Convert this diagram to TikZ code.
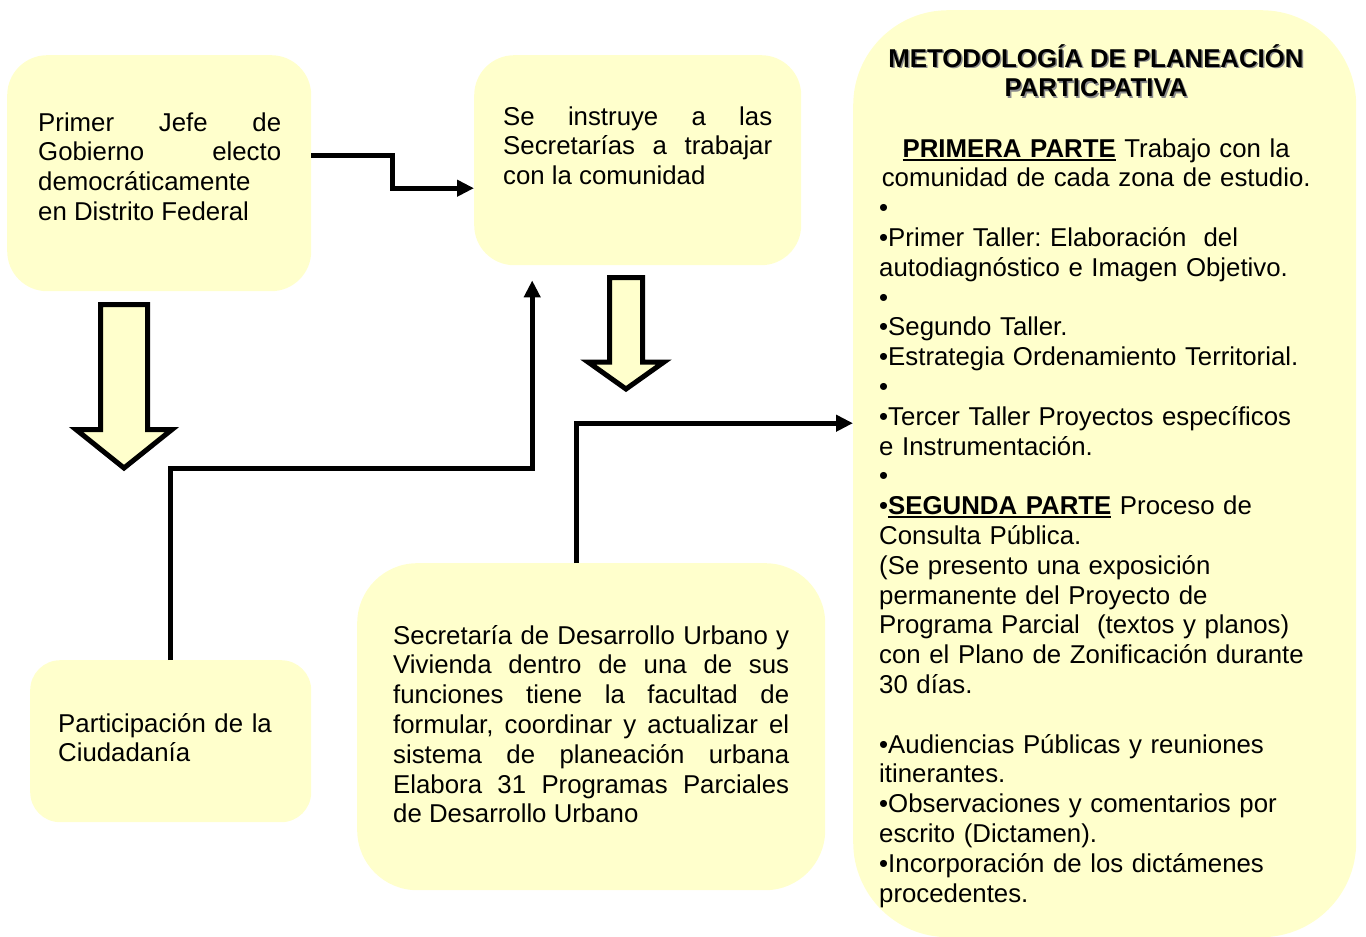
\documentclass[tikz,border=0pt]{standalone}
\usepackage{fontspec}
\setmainfont{Liberation Sans}
\usetikzlibrary{arrows.meta,calc}
\definecolor{boxfill}{HTML}{FFFFCC}
\tolerance=10000
\hyphenpenalty=10000
\frenchspacing
\newcommand\myul[1]{{\setbox0\hbox{#1}\rlap{\rule[-3.5pt]{\wd0}{1.8pt}}\box0}}
\begin{document}
\begin{tikzpicture}[x=1pt,y=-1pt,
  box/.style={draw=none,fill=boxfill,anchor=north west,inner sep=0pt},
  txt/.style={anchor=base west,inner sep=0pt,font=\fontsize{25.8}{29.8}\selectfont\frenchspacing},
  conn/.style={line width=5pt,line join=miter,-{Triangle[length=17pt,width=16pt]}},
  blockarrow/.style={draw=black,line width=5pt,fill=boxfill,line join=miter}]
\useasboundingbox (0,0) rectangle (1366,937);

% boxes
\node[box,rounded corners=40pt,minimum width=304pt,minimum height=236pt] (a) at (7,55) {};
\node[box,rounded corners=40pt,minimum width=327pt,minimum height=210pt] (b) at (474,55) {};
\node[box,rounded corners=30pt,minimum width=281pt,minimum height=162pt] (c) at (30,660) {};
\node[box,rounded corners=60pt,minimum width=468pt,minimum height=327pt] (d) at (357,563) {};
\node[box,rounded corners=95pt,minimum width=503pt,minimum height=927pt] (e) at (853,10) {};

% texts
\node[txt,text width=243pt,align=justify] (ta) at (38,131)
  {Primer Jefe de\linebreak Gobierno electo\linebreak democráticamente\newline en Distrito Federal};
\node[txt,text width=269pt,align=justify] (tb) at (503,125)
  {Se instruye a las\linebreak Secretarías a trabajar\linebreak con la comunidad};
\node[txt,text width=250pt,align=left] (tc) at (58,732)
  {Participación de la\\ Ciudadanía};
\node[txt,text width=396pt,align=justify] (td) at (393,644)
  {Secretaría de Desarrollo Urbano y\linebreak Vivienda dentro de una de sus\linebreak funciones tiene la facultad de\linebreak formular, coordinar y actualizar el\linebreak sistema de planeación urbana\linebreak Elabora 31 Programas Parciales\linebreak de Desarrollo Urbano};

\node[txt,anchor=base,align=center,text=black!45,font=\fontsize{25.8}{29.8}\selectfont\bfseries] (tshadow) at (1097.5,98.3)
  {METODOLOGÍA DE PLANEACIÓN\\ PARTICPATIVA};
\node[txt,anchor=base,align=center,font=\fontsize{25.8}{29.8}\selectfont\bfseries] (ttitle) at (1096,96.8)
  {METODOLOGÍA DE PLANEACIÓN\\ PARTICPATIVA};
\node[txt,text width=434pt,align=left] (te) at (879,157)
  {{\centering\myul{\textbf{PRIMERA PARTE}} Trabajo con la\\ comunidad de cada zona de estudio.\par}
   •\\
   •Primer Taller: Elaboración\ \ del\\
   autodiagnóstico e Imagen Objetivo.\\
   •\\
   •Segundo Taller.\\
   •Estrategia Ordenamiento Territorial.\\
   •\\
   •Tercer Taller Proyectos específicos\\
   e Instrumentación.\\
   •\\
   •\myul{\textbf{SEGUNDA PARTE}} Proceso de\\
   Consulta Pública.\\
   (Se presento una exposición\\
   permanente del Proyecto de\\
   Programa Parcial\ \ (textos y planos)\\
   con el Plano de Zonificación durante\\
   30 días.\\
   \strut\\
   •Audiencias Públicas y reuniones\\
   itinerantes.\\
   •Observaciones y comentarios por\\
   escrito (Dictamen).\\
   •Incorporación de los dictámenes\\
   procedentes.};

% connectors
\draw[conn] ([yshift=18pt]a.east) -- ++(81,0) |- ([yshift=-28pt]b.west);
\draw[conn] (c.north) -- ++(0,-192) -| ([xshift=-105.5pt,yshift=-15pt]b.south);
\draw[conn] ([xshift=-15pt]d.north) |- ([yshift=50.5pt]e.west);

% block arrows
\draw[blockarrow] (100.5,304.5) -- (147.5,304.5) -- (147.5,429.5) -- (172,429.5)
  -- (124,468) -- (76,429.5) -- (100.5,429.5) -- cycle;
\draw[blockarrow] (609.5,277.5) -- (642.5,277.5) -- (642.5,362) -- (664,362)
  -- (626,389) -- (588,362) -- (609.5,362) -- cycle;
\end{tikzpicture}
\end{document}
